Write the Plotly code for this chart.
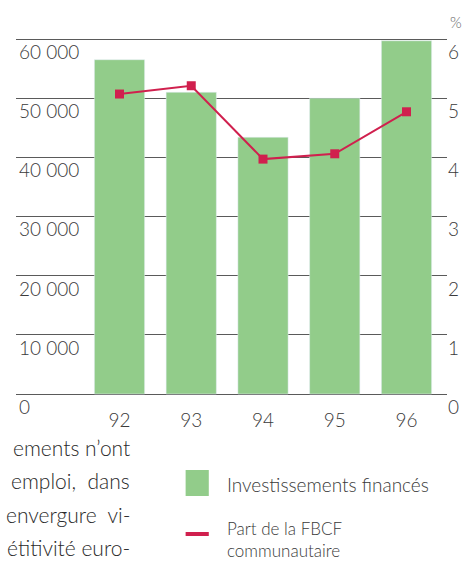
import plotly.graph_objects as go

years = ['92', '93', '94', '95', '96']
invest = [56500, 51000, 43400, 50000, 59700]
part_fbcf = [5.07, 5.21, 3.97, 4.06, 4.77]

left_ticks = [0, 10000, 20000, 30000, 40000, 50000, 60000]
left_labels = ['0', '10 000', '20 000', '30 000', '40 000', '50 000', '60 000']
right_ticks = [0, 1, 2, 3, 4, 5, 6]

body_lines = ["ements n\u2019ont", "emploi,  dans", "envergure  vi-", "étitivité euro-"]

green = 'rgb(146,204,138)'
red = 'rgb(208,32,78)'
txt = '#3a3a3a'
font_fam = 'Lato'

W, H = 465, 562
ymin, ymax = -28394, 66592


def f(size, color=txt):
    return dict(family=font_fam, size=size, color=color, weight=300)


fig = go.Figure()
fig.add_trace(go.Bar(x=years, y=invest, marker_color=green, width=0.7,
                     name='Investissements financés', showlegend=False))
fig.add_trace(go.Scatter(x=years, y=part_fbcf, yaxis='y2', mode='lines+markers',
                         line=dict(color=red, width=2),
                         marker=dict(symbol='square', size=9, color=red),
                         name='Part de la FBCF communautaire', showlegend=False))

fig.update_layout(
    width=W, height=H,
    margin=dict(l=16, r=18, t=0, b=0),
    plot_bgcolor='white', paper_bgcolor='white',
    font=f(18),
    xaxis=dict(range=[-1.4425, 4.5645], showgrid=False, zeroline=False,
               anchor='free', position=(H - 394) / H, showline=False,
               ticks='', ticklabelstandoff=13, tickfont=f(19)),
    yaxis=dict(range=[ymin, ymax], tickvals=left_ticks, ticktext=left_labels,
               showgrid=True, gridcolor='#5a5a5a', gridwidth=1, zeroline=False,
               ticklabelposition='inside bottom', ticks='', tickfont=f(19)),
    yaxis2=dict(range=[ymin / 10000, ymax / 10000], tickvals=right_ticks,
                overlaying='y', side='right', showgrid=False, zeroline=False,
                ticklabelposition='outside bottom', ticks='', tickfont=f(19)),
    barmode='overlay',
)

# % unit label
fig.add_annotation(x=1, y=1 - 22 / H, xref='paper', yref='paper', text='%', showarrow=False,
                   xanchor='left', yanchor='middle', xshift=1, font=f(15, '#666'))

# body text fragments cut at the left edge
for i, line in enumerate(body_lines):
    fig.add_annotation(x=125 / W, y=1 - (447 + i * 33.5) / H, xref='paper', yref='paper',
                       text=line, showarrow=False, xanchor='right', yanchor='middle',
                       font=f(21, '#2a2a2a'))

# legend
fig.add_shape(type='rect', xref='paper', yref='paper',
              x0=183 / W, x1=208 / W, y0=1 - 496 / H, y1=1 - 470 / H,
              fillcolor=green, line_width=0)
fig.add_annotation(x=225 / W, y=1 - 484 / H, xref='paper', yref='paper',
                   text='Investissements financés', showarrow=False,
                   xanchor='left', yanchor='middle', font=f(19))
fig.add_shape(type='line', xref='paper', yref='paper',
              x0=183 / W, x1=208 / W, y0=1 - 534 / H, y1=1 - 534 / H,
              line=dict(color=red, width=4))
fig.add_annotation(x=225 / W, y=1 - 539 / H, xref='paper', yref='paper',
                   text='Part de la FBCF<br>communautaire', showarrow=False, align='left',
                   xanchor='left', yanchor='middle', font=f(17))

fig.write_html("out.html", config={'displayModeBar': False},
               post_script="document.body.style.margin='0';")
